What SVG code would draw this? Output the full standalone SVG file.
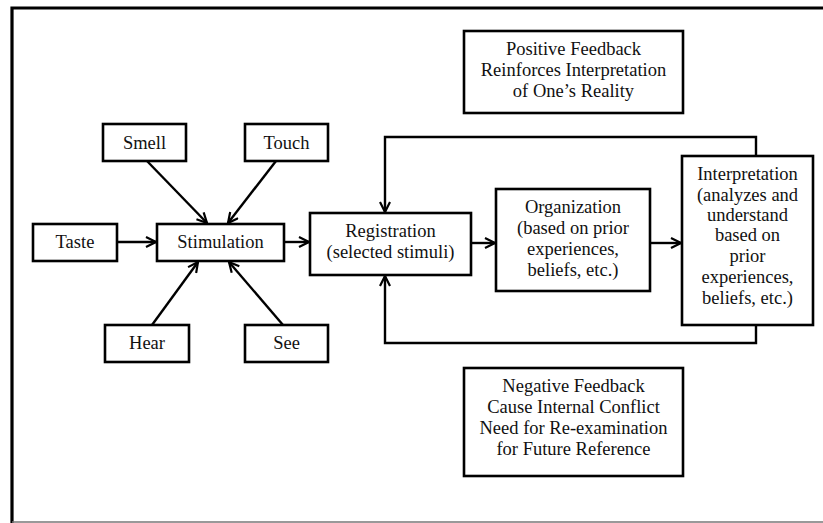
<svg xmlns="http://www.w3.org/2000/svg" width="823" height="523" viewBox="0 0 823 523">
<defs>
<marker id="arr" viewBox="0 0 12 12" refX="11" refY="6" markerWidth="12" markerHeight="12" markerUnits="userSpaceOnUse" orient="auto">
<path d="M1,1 L11,6 L1,11" fill="none" stroke="#000" stroke-width="2.2"/>
</marker>
<style>
.box{fill:#fff;stroke:#000;stroke-width:2.6}
.t{font-family:"Liberation Serif","Times New Roman",serif;font-size:18.5px;fill:#111;text-anchor:middle}
.c{fill:none;stroke:#000;stroke-width:2.4}
</style>
</defs>
<rect width="823" height="523" fill="#fff"/>
<g id="frame">
<path d="M12,523 V8 H823" fill="none" stroke="#000" stroke-width="3.2"/>
<line x1="12" y1="522" x2="823" y2="522" stroke="#777" stroke-width="1.5"/>
</g>
<g id="connectors">
<line class="c" x1="117" y1="242" x2="156" y2="242" marker-end="url(#arr)"/>
<line class="c" x1="284" y1="242" x2="309" y2="242" marker-end="url(#arr)"/>
<line class="c" x1="471" y1="243" x2="495" y2="243" marker-end="url(#arr)"/>
<line class="c" x1="650" y1="243" x2="681" y2="243" marker-end="url(#arr)"/>
<line class="c" x1="147" y1="161" x2="207" y2="223" marker-end="url(#arr)"/>
<line class="c" x1="276" y1="161" x2="228" y2="223" marker-end="url(#arr)"/>
<line class="c" x1="152" y1="325" x2="198" y2="262" marker-end="url(#arr)"/>
<line class="c" x1="283" y1="325" x2="229" y2="262" marker-end="url(#arr)"/>
<path class="c" d="M756,156 V137 H385 V212" marker-end="url(#arr)"/>
<path class="c" d="M756,325 V343 H385 V276" marker-end="url(#arr)"/>
</g>
<g id="smell"><rect class="box" x="103" y="124" width="83" height="37"/><text class="t" x="144.5" y="148.5">Smell</text></g>
<g id="touch"><rect class="box" x="245" y="124" width="83" height="37"/><text class="t" x="286.5" y="148.5">Touch</text></g>
<g id="taste"><rect class="box" x="33" y="224" width="84" height="37"/><text class="t" x="75" y="248">Taste</text></g>
<g id="stimulation"><rect class="box" x="157" y="224" width="127" height="37"/><text class="t" x="220.5" y="248">Stimulation</text></g>
<g id="hear"><rect class="box" x="105" y="325" width="84" height="37"/><text class="t" x="147" y="349">Hear</text></g>
<g id="see"><rect class="box" x="245" y="325" width="83" height="37"/><text class="t" x="286.5" y="349">See</text></g>
<g id="registration"><rect class="box" x="310" y="213" width="161" height="62"/>
<text class="t" x="390.5" y="237">Registration</text><text class="t" x="390.5" y="258">(selected stimuli)</text></g>
<g id="organization"><rect class="box" x="496" y="189" width="154" height="102"/>
<text class="t" x="573" y="213">Organization</text><text class="t" x="573" y="234">(based on prior</text><text class="t" x="573" y="255">experiences,</text><text class="t" x="573" y="276">beliefs, etc.)</text></g>
<g id="interpretation"><rect class="box" x="682" y="156" width="131" height="169"/>
<text class="t" x="747.5" y="180">Interpretation</text><text class="t" x="747.5" y="201">(analyzes and</text><text class="t" x="747.5" y="221">understand</text><text class="t" x="747.5" y="241">based on</text><text class="t" x="747.5" y="262">prior</text><text class="t" x="747.5" y="283">experiences,</text><text class="t" x="747.5" y="304">beliefs, etc.)</text></g>
<g id="positive"><rect class="box" x="464" y="31" width="219" height="82"/>
<text class="t" x="573.5" y="55">Positive Feedback</text><text class="t" x="573.5" y="76">Reinforces Interpretation</text><text class="t" x="573.5" y="97">of One’s Reality</text></g>
<g id="negative"><rect class="box" x="464" y="368" width="219" height="108"/>
<text class="t" x="573.5" y="392">Negative Feedback</text><text class="t" x="573.5" y="413">Cause Internal Conflict</text><text class="t" x="573.5" y="434">Need for Re-examination</text><text class="t" x="573.5" y="455">for Future Reference</text></g>
</svg>
